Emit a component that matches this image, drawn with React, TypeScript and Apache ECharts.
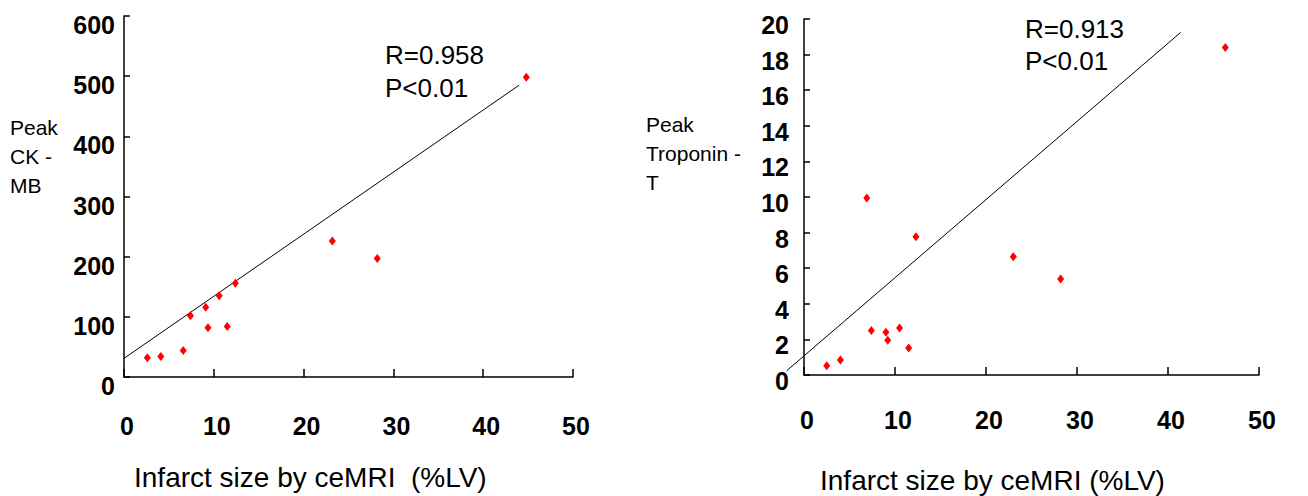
import React, { useEffect, useRef } from "react";
import * as echarts from "echarts";

const xTicks = [0, 10, 20, 30, 40, 50];
const ckmbYTicks = [0, 100, 200, 300, 400, 500, 600];
const tropYTicks = [0, 2, 4, 6, 8, 10, 12, 14, 16, 18, 20];

const ckmbPoints: [number, number][] = [
  [2.6, 32], [4.1, 34], [6.6, 44], [7.4, 102], [9.1, 116], [9.35, 82],
  [10.6, 135], [11.5, 84], [12.4, 156], [23.2, 226], [28.2, 197], [44.8, 498],
];
// regression line: [x1, y1, x2, y2]
const ckmbFit: [number, number, number, number] = [0, 31, 44, 485];

const tropPoints: [number, number][] = [
  [2.5, 0.52], [4.0, 0.84], [7.4, 2.5], [9.0, 2.4], [9.2, 1.95], [10.5, 2.64],
  [11.5, 1.52], [12.3, 7.77], [23.0, 6.65], [28.2, 5.4], [6.9, 9.94], [46.3, 18.4],
];
const tropFit: [number, number, number, number] = [-1.9, 0.24, 41.4, 19.25];

const ckmbStats = ["R=0.958", "P<0.01"];
const tropStats = ["R=0.913", "P<0.01"];
const xTitle = "Infarct size by ceMRI  (%LV)";
const xTitleRight = "Infarct size by ceMRI (%LV)";
const ckmbName = ["Peak", "CK -", "MB"];
const tropName = ["Peak", "Troponin -", "T"];

const FONT = "'Liberation Sans', Arial, Helvetica, sans-serif";

export default function App() {
  const ref = useRef<HTMLDivElement>(null);
  useEffect(() => {
    if (!ref.current) return;
    const chart = echarts.init(ref.current, null, { renderer: "svg" });
    const axisLine = { lineStyle: { color: "#000", width: 1.5 } };
    const xAxisBase = (gridIndex: number, margin: number) => ({
      type: "value",
      gridIndex,
      min: xTicks[0],
      max: xTicks[xTicks.length - 1],
      interval: 10,
      axisLine: { show: true, onZero: false, ...axisLine },
      axisTick: { show: true, inside: true, length: 8, lineStyle: { color: "#000", width: 1.5 } },
      splitLine: { show: false },
      axisLabel: {
        color: "#000",
        fontSize: 25,
        fontWeight: "bold",
        fontFamily: FONT,
        margin,
        verticalAlign: "middle",
        padding: [0, 0, 0, 6],
        showMinLabel: true,
        showMaxLabel: true,
      },
    });
    const yAxisBase = (gridIndex: number, ticks: number[], margin: number, lh: number) => ({
      type: "value",
      gridIndex,
      min: ticks[0],
      max: ticks[ticks.length - 1],
      interval: ticks[1] - ticks[0],
      axisLine: { show: true, onZero: false, ...axisLine },
      axisTick: { show: true, inside: true, length: 6, lineStyle: { color: "#000", width: 1.5 } },
      splitLine: { show: false },
      axisLabel: {
        color: "#000",
        fontSize: 25,
        fontWeight: "bold",
        fontFamily: FONT,
        margin,
        verticalAlign: "top",
        lineHeight: lh,
        showMinLabel: true,
        showMaxLabel: true,
      },
    });
    const scatter = (i: number, data: [number, number][]) => ({
      type: "scatter",
      xAxisIndex: i,
      yAxisIndex: i,
      data,
      symbol: "diamond",
      symbolSize: [7, 9],
      itemStyle: { color: "#ff0000", opacity: 1 },
      z: 3,
    });
    const fit = (i: number, seg: [number, number, number, number]) => ({
      type: "custom",
      xAxisIndex: i,
      yAxisIndex: i,
      clip: false,
      data: [seg],
      encode: { x: [0, 2], y: [1, 3] },
      renderItem: (_params: any, api: any) => {
        const p1 = api.coord([api.value(0), api.value(1)]);
        const p2 = api.coord([api.value(2), api.value(3)]);
        return {
          type: "line",
          shape: { x1: p1[0], y1: p1[1], x2: p2[0], y2: p2[1] },
          style: { stroke: "#000", lineWidth: 1 },
        };
      },
      z: 2,
    });
    const txt = (x: number, y: number, lines: string[], size: number, lh: number) => ({
      type: "text",
      x,
      y,
      style: {
        text: lines.join("\n"),
        fontSize: size,
        fontFamily: FONT,
        lineHeight: lh,
        fill: "#000",
      },
    });
    chart.setOption({
      animation: false,
      backgroundColor: "#fff",
      grid: [
        { left: 124, top: 16, width: 449, height: 361 },
        { left: 804, top: 19, width: 455, height: 356 },
      ],
      xAxis: [xAxisBase(0, 49), xAxisBase(1, 45)],
      yAxis: [yAxisBase(0, ckmbYTicks, 9, 18), yAxisBase(1, tropYTicks, 15, 12)],
      series: [
        fit(0, ckmbFit),
        scatter(0, ckmbPoints),
        fit(1, tropFit),
        scatter(1, tropPoints),
      ],
      graphic: [
        txt(10, 113, ckmbName, 21, 29),
        txt(646, 110, tropName, 21, 29),
        txt(385, 38, ckmbStats, 26, 33),
        txt(1025, 13, tropStats, 26, 32),
        txt(134, 463, [xTitle], 28, 28),
        txt(820, 466, [xTitleRight], 28, 28),
      ],
    });
    return () => chart.dispose();
  }, []);
  return (
    <div
      ref={ref}
      style={{ position: "fixed", left: 0, top: 0, width: 1308, height: 496, background: "#fff" }}
    />
  );
}
